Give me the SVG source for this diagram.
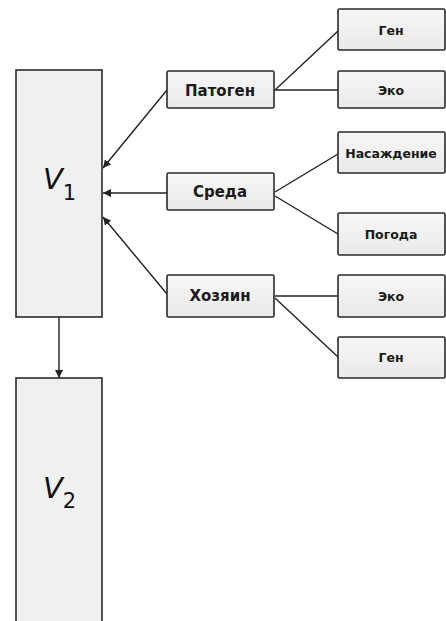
<svg xmlns="http://www.w3.org/2000/svg" width="446" height="621" viewBox="0 0 446 621">
<defs>
<linearGradient id="g" x1="0" y1="0" x2="0" y2="1">
<stop offset="0" stop-color="#f7f7f7"/>
<stop offset="1" stop-color="#e9e9e9"/>
</linearGradient>
<marker id="ah" viewBox="0 0 10 10" refX="10" refY="5" markerWidth="8" markerHeight="8" markerUnits="userSpaceOnUse" orient="auto">
<path d="M0,0 L10,5 L0,10 z" fill="#222"/>
</marker>
</defs>
<style>
.big{fill:#f0f0f0;stroke:#2a2a2a;stroke-width:1.6}
.box{fill:url(#g);stroke:#2a2a2a;stroke-width:1.6}
.mid{font-family:"DejaVu Sans","Liberation Sans",sans-serif;font-size:15px;font-weight:bold;fill:#1a1a1a;text-anchor:middle;dominant-baseline:central}
.sm{font-family:"DejaVu Sans","Liberation Sans",sans-serif;font-size:12.5px;font-weight:bold;fill:#1a1a1a;text-anchor:middle;dominant-baseline:central}
.v{font-family:"DejaVu Sans","Open Sans",sans-serif;font-size:29px;fill:#111}
.sub{font-size:21px;font-style:normal}
.ln{stroke:#222;stroke-width:1.4;fill:none}
</style>
<g id="connectors">
<line class="ln" x1="59" y1="317" x2="59" y2="378" marker-end="url(#ah)"/>
<line class="ln" x1="167" y1="90" x2="103" y2="168" marker-end="url(#ah)"/>
<line class="ln" x1="167" y1="193" x2="103" y2="193" marker-end="url(#ah)"/>
<line class="ln" x1="167" y1="294" x2="103" y2="217" marker-end="url(#ah)"/>
<line class="ln" x1="275" y1="90" x2="338" y2="31"/>
<line class="ln" x1="275" y1="90" x2="338" y2="90"/>
<line class="ln" x1="275" y1="192" x2="338" y2="154"/>
<line class="ln" x1="275" y1="196" x2="338" y2="234"/>
<line class="ln" x1="275" y1="296" x2="338" y2="296"/>
<line class="ln" x1="275" y1="298" x2="338" y2="357"/>
</g>
<g id="V1">
<rect class="big" x="16" y="70" width="86" height="247"/>
<text class="v" x="43" y="189"><tspan font-style="italic">V</tspan><tspan class="sub" dy="11">1</tspan></text>
</g>
<g id="V2">
<rect class="big" x="16" y="378" width="86" height="250"/>
<text class="v" x="43" y="498"><tspan font-style="italic">V</tspan><tspan class="sub" dy="10">2</tspan></text>
</g>
<g id="patogen">
<rect class="box" x="167" y="71" width="107" height="37" rx="1.5"/>
<text class="mid" x="220" y="91">Патоген</text>
</g>
<g id="gen1">
<rect class="box" x="338" y="9" width="107" height="41" rx="1.5"/>
<text class="sm" x="391" y="30">Ген</text>
</g>
<g id="eko1">
<rect class="box" x="338" y="71" width="107" height="37" rx="1.5"/>
<text class="sm" x="391" y="90">Эко</text>
</g>
<g id="sreda">
<rect class="box" x="167" y="173" width="107" height="37" rx="1.5"/>
<text class="mid" x="220" y="192">Среда</text>
</g>
<g id="nasazhdenie">
<rect class="box" x="338" y="132" width="107" height="41" rx="1.5"/>
<text class="sm" x="391" y="153">Насаждение</text>
</g>
<g id="pogoda">
<rect class="box" x="338" y="213" width="107" height="42" rx="1.5"/>
<text class="sm" x="391" y="234">Погода</text>
</g>
<g id="khozyain">
<rect class="box" x="167" y="275" width="107" height="42" rx="1.5"/>
<text class="mid" x="220" y="296">Хозяин</text>
</g>
<g id="eko2">
<rect class="box" x="338" y="275" width="107" height="42" rx="1.5"/>
<text class="sm" x="391" y="296">Эко</text>
</g>
<g id="gen2">
<rect class="box" x="338" y="337" width="107" height="41" rx="1.5"/>
<text class="sm" x="391" y="357">Ген</text>
</g>
</svg>
